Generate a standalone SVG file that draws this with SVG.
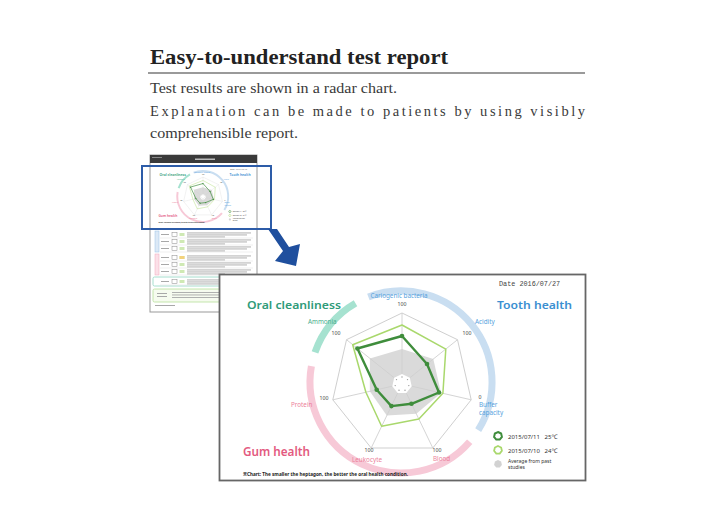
<svg xmlns="http://www.w3.org/2000/svg" xmlns:xlink="http://www.w3.org/1999/xlink" width="720" height="525" viewBox="0 0 720 525">
<style>
.serif{font-family:"Liberation Serif","Times New Roman",serif;}
.title{font-size:20px;font-weight:bold;fill:#222;}
.body{font-size:14.5px;fill:#3a3a3a;}
.sans{font-family:"Noto Sans","Liberation Sans","Noto Sans CJK JP",sans-serif;}
.mono{font-family:"Liberation Mono","DejaVu Sans Mono",monospace;font-size:6.8px;fill:#444;}
.head{font-size:11.5px;font-weight:600;}
.lab{font-size:6.3px;}
.num{font-size:5.2px;fill:#444;text-anchor:middle;}
.teal{fill:#2f9b79;}
.blue{fill:#3b8fd1;}
.pink{fill:#e35a80;}
.tealL{fill:#46ae8c;}
.blueL{fill:#56a2dd;}
.pinkL{fill:#ec7f9b;}
.spoke{stroke:#cfcfcf;stroke-width:0.9;fill:none;}
.grid{stroke:#cfcfcf;stroke-width:1;fill:none;}
.ring{fill:none;stroke-width:7;}
.dk{fill:none;stroke:#3f8d3c;stroke-width:2.4;stroke-linejoin:round;}
.lt{fill:none;stroke:#a9d86c;stroke-width:1.5;stroke-linejoin:round;}
.avg{fill:#dadada;}
.dot{fill:#3f8d3c;}
.leg{font-size:6px;fill:#333;}
.leg2{font-size:5px;fill:#333;}
.bar{fill:#a8a8a8;}
.sep{stroke:#dcdcdc;stroke-width:0.5;}
.cell{fill:#fff;stroke:#888;stroke-width:0.5;}
</style>
<defs>
  <polygon id="hept" points="0,-4 3.13,-2.49 3.9,0.89 1.74,3.6 -1.74,3.6 -3.9,0.89 -3.13,-2.49"/>
  <g id="row">
    <rect class="bar" x="161" y="3" width="8" height="1"/>
    <rect class="cell" x="172" y="1.5" width="5" height="4"/>
    <rect x="179.5" y="2" width="5" height="3" fill="#cfe9b4"/>
    <rect class="bar" x="187" y="1.5" width="64" height="0.9"/>
    <rect class="bar" x="187" y="3.5" width="60" height="0.9"/>
    <rect class="bar" x="187" y="5.5" width="38" height="0.9"/>
    <line class="sep" x1="160" y1="7" x2="253" y2="7"/>
  </g>
</defs>

<g id="heading">
  <text class="serif title" x="150" y="64" textLength="298" lengthAdjust="spacingAndGlyphs">Easy-to-understand test report</text>
  <line x1="148" y1="73" x2="585" y2="73" stroke="#9a9a9a" stroke-width="2"/>
  <text class="serif body" x="150" y="93" textLength="247" lengthAdjust="spacingAndGlyphs">Test results are shown in a radar chart.</text>
  <text class="serif body" x="150" y="116" textLength="435" lengthAdjust="spacing">Explanation can be made to patients by using visibly</text>
  <text class="serif body" x="150" y="138" textLength="148" lengthAdjust="spacingAndGlyphs">comprehensible report.</text>
</g>

<g id="thumbnail">
  <rect x="150" y="155" width="107" height="157" fill="#fff" stroke="#999" stroke-width="1"/>
  <rect x="150" y="155" width="107" height="8" fill="#3a3a3a"/>
  <rect x="195" y="158.5" width="20" height="1.5" fill="#bbb"/>
  <rect x="152" y="157" width="10" height="1" fill="#888"/>
  <use xlink:href="#report" transform="translate(203,197) scale(0.28) translate(-402,-384)"/>
  <rect x="155" y="231" width="4" height="21" fill="#dce9f6" stroke="#9cc3e6" stroke-width="0.5"/>
  <use xlink:href="#row" y="231"/>
  <use xlink:href="#row" y="238"/>
  <use xlink:href="#row" y="245"/>
  <rect x="155" y="254" width="4" height="21" fill="#fbe0e8" stroke="#f2a9bd" stroke-width="0.5"/>
  <use xlink:href="#row" y="254"/>
  <rect x="179.5" y="256" width="5" height="3" fill="#f3d27c"/>
  <use xlink:href="#row" y="261"/>
  <use xlink:href="#row" y="268"/>
  <rect x="153" y="277" width="100" height="9" rx="1.5" fill="none" stroke="#8fd6c2" stroke-width="0.8"/>
  <use xlink:href="#row" y="278"/>
  <rect x="153" y="289" width="100" height="13" rx="1.5" fill="#f6fbef" stroke="#b6e09a" stroke-width="0.8"/>
  <rect class="bar" x="157" y="293" width="10" height="1"/>
  <rect class="bar" x="157" y="296" width="10" height="1"/>
  <rect class="bar" x="172" y="292" width="70" height="0.9"/>
  <rect class="bar" x="172" y="294.5" width="66" height="0.9"/>
  <rect class="bar" x="172" y="297" width="50" height="0.9"/>
  <rect class="bar" x="155" y="305" width="20" height="1"/>
  <rect class="bar" x="225" y="305" width="25" height="1"/>
</g>

<g id="highlight">
  <rect x="142" y="166" width="129" height="63" fill="none" stroke="#2d5ca8" stroke-width="2"/>
  <polygon points="268,229 277,229 289,247 300,244 296,266 275,261 283,251" fill="#1f4f9e"/>
</g>

<rect id="report-frame" x="219.5" y="274.5" width="366" height="206" fill="#fff" stroke="#666" stroke-width="1.8"/>

<g id="report">
  <text class="mono" x="499" y="286">Date 2016/07/27</text>
  <g id="rings">
    <path class="ring" stroke="#a6e2d0" d="M315.0 352.4 A91 91 0 0 1 355.5 303.2"/>
    <path class="ring" stroke="#c9def1" d="M368.4 297.0 A91 91 0 0 1 478.2 430.2"/>
    <path class="ring" stroke="#f7c9d7" d="M469.7 441.7 A91 91 0 0 1 311.4 366.2"/>
  </g>
  <polygon class="avg" points="402,349 433.3,359.1 441,392.9 416.3,413.7 386.8,415.5 369.8,391.3 369.9,358.4"/>
  <polygon class="grid" points="402,313 457.5,339.7 471.2,399.8 432.8,448 371.2,448 332.8,399.8 346.5,339.7"/>
  <g class="spoke">
    <line x1="402" y1="374" x2="402" y2="313"/>
    <line x1="409.8" y1="377.8" x2="457.5" y2="339.7"/>
    <line x1="411.7" y1="386.2" x2="471.2" y2="399.8"/>
    <line x1="406.3" y1="393" x2="432.8" y2="448"/>
    <line x1="397.7" y1="393" x2="371.2" y2="448"/>
    <line x1="392.3" y1="386.2" x2="332.8" y2="399.8"/>
    <line x1="394.2" y1="377.8" x2="346.5" y2="339.7"/>
  </g>
  <polygon fill="#fff" points="402,374 409.8,377.8 411.7,386.2 406.3,393 397.7,393 392.3,386.2 394.2,377.8"/>
  <g fill="#999">
    <circle cx="402" cy="377" r="0.7"/>
    <circle cx="407.5" cy="379.6" r="0.7"/>
    <circle cx="408.8" cy="385.6" r="0.7"/>
    <circle cx="405" cy="390.3" r="0.7"/>
    <circle cx="399" cy="390.3" r="0.7"/>
    <circle cx="395.2" cy="385.6" r="0.7"/>
    <circle cx="396.5" cy="379.6" r="0.7"/>
  </g>
  <polygon class="lt" points="402,325 445.8,349.1 442.9,393.3 418.9,419.1 381.6,426.3 365.9,392.2 352.7,344.7"/>
  <polygon class="dk" points="402,336 427,364 439,392.5 411.5,403.8 391.4,406.1 376.7,389.8 357.4,348.5"/>
  <g class="dot">
    <circle cx="402" cy="336" r="2.3"/>
    <circle cx="427" cy="364" r="2.3"/>
    <circle cx="439" cy="392.5" r="2.3"/>
    <circle cx="411.5" cy="403.8" r="2.3"/>
    <circle cx="391.4" cy="406.1" r="2.3"/>
    <circle cx="376.7" cy="389.8" r="2.3"/>
    <circle cx="357.4" cy="348.5" r="2.3"/>
  </g>
  <g id="labels" class="sans">
    <text class="head teal" x="247" y="309" textLength="94" lengthAdjust="spacingAndGlyphs">Oral cleanliness</text>
    <text class="head blue" x="497" y="309" textLength="75" lengthAdjust="spacingAndGlyphs">Tooth health</text>
    <text class="head pink" x="243" y="456" textLength="67" lengthAdjust="spacingAndGlyphs" style="font-size:13px">Gum health</text>
    <text class="lab blueL" x="399" y="298" text-anchor="middle">Cariogenic bacteria</text>
    <text class="lab tealL" x="308" y="324">Ammonia</text>
    <text class="lab blueL" x="475" y="324">Acidity</text>
    <text class="lab blueL" x="479" y="407">Buffer<tspan x="479" y="415">capacity</tspan></text>
    <text class="lab pinkL" x="291" y="407">Protein</text>
    <text class="lab pinkL" x="352" y="462">Leukocyte</text>
    <text class="lab pinkL" x="433" y="461">Blood</text>
    <text class="num" x="402" y="306">100</text>
    <text class="num" x="336" y="335">100</text>
    <text class="num" x="467" y="335">100</text>
    <text class="num" x="480" y="399">0</text>
    <text class="num" x="324" y="400">100</text>
    <text class="num" x="369" y="452">100</text>
    <text class="num" x="437" y="452">100</text>
  </g>
  <g id="legend" class="sans">
    <use xlink:href="#hept" x="498" y="436" fill="#fff" stroke="#3f8d3c" stroke-width="2"/>
    <text class="leg" x="508" y="438.5" xml:space="preserve">2015/07/11   25℃</text>
    <use xlink:href="#hept" x="498" y="450" fill="#fff" stroke="#a9d86c" stroke-width="1.8"/>
    <text class="leg" x="508" y="452.5" xml:space="preserve">2015/07/10   24℃</text>
    <use xlink:href="#hept" x="498" y="464" fill="#d2d2d2"/>
    <text class="leg2" x="508" y="462.5">Average from past<tspan x="508" y="468.5">studies</tspan></text>
  </g>
  <text class="sans" x="243" y="476" font-size="5.2" font-weight="bold" fill="#222" textLength="165" lengthAdjust="spacingAndGlyphs">※Chart: The smaller the heptagon, the better the oral health condition.</text>
</g>
</svg>
